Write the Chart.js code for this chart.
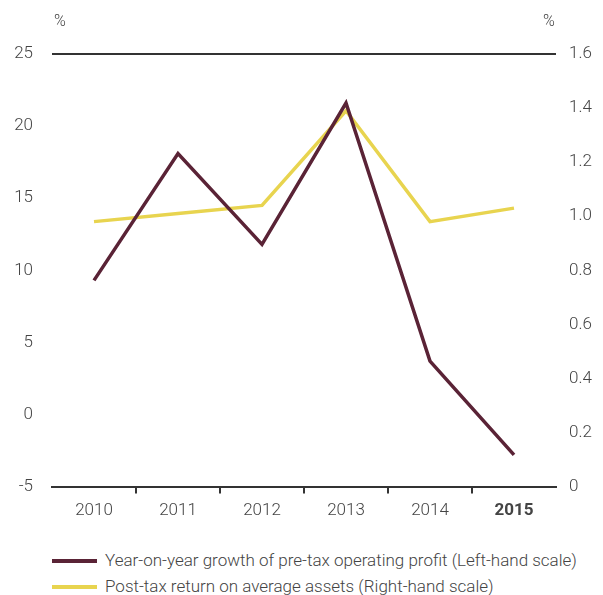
<!DOCTYPE html>
<html>
<head>
<meta charset="utf-8">
<script src="https://cdn.jsdelivr.net/npm/chart.js@4.4.0/dist/chart.umd.min.js"></script>
<style>
  body { margin: 0; background: #fff; font-family: Roboto, sans-serif; }
  #wrap { position: relative; width: 603px; height: 528px; }
  .legend { position: absolute; left: 52px; top: 547px; font-size: 17px; color: #444; font-weight: 300; }
  .legend div { height: 26px; line-height: 26px; white-space: nowrap; }
  .legend span { display: inline-block; width: 45px; height: 4px; vertical-align: middle; margin-right: 8px; margin-top: -2px; }
</style>
</head>
<body>
<div id="wrap"><canvas id="myChart"></canvas></div>
<div class="legend">
  <div><span style="background:#5a2336"></span>Year-on-year growth of pre-tax operating profit (Left-hand scale)</div>
  <div><span style="background:#e8d44f"></span>Post-tax return on average assets (Right-hand scale)</div>
</div>
<script>
// categories and values
var years = ["2010", "2011", "2012", "2013", "2014", "2015"];
var profitGrowth = [9.3, 18.1, 11.8, 21.6, 3.7, -2.8];
var returnOnAssets = [0.98, 1.01, 1.04, 1.39, 0.98, 1.03];

var darkLine = "#5a2336";
var yellowLine = "#e8d44f";
var axisColor = "#333";
var labelColor = "#444";

// draws the little % above each y axis
var percentLabels = {
  id: "percentLabels",
  afterDraw: function(chart) {
    var ctx = chart.ctx;
    ctx.save();
    ctx.font = "300 16px Roboto";
    ctx.fillStyle = labelColor;
    ctx.textBaseline = "middle";
    ctx.textAlign = "center";
    ctx.fillText("%", 60, 22);
    ctx.fillText("%", 549, 22);
    ctx.restore();
  }
};

new Chart("myChart", {
  type: "line",
  data: {
    labels: years,
    datasets: [
      {
        data: profitGrowth,
        borderColor: darkLine,
        borderWidth: 3.5,
        pointRadius: 0,
        yAxisID: "y",
        fill: false,
        tension: 0
      },
      {
        data: returnOnAssets,
        borderColor: yellowLine,
        borderWidth: 3.5,
        pointRadius: 0,
        yAxisID: "y1",
        fill: false,
        tension: 0
      }
    ]
  },
  options: {
    responsive: true,
    maintainAspectRatio: false,
    animation: false,
    layout: {padding: {top: 54, left: 0, right: 0, bottom: 0}},
    plugins: {
      legend: {display: false},
      tooltip: {enabled: false}
    },
    scales: {
      x: {
        offset: true,
        grid: {
          offset: true,
          drawOnChartArea: false,
          tickLength: 7,
          lineWidth: 2,
          color: function(c) { return (c.index > 0 && c.index < years.length) ? axisColor : "rgba(0,0,0,0)"; }
        },
        border: {display: true, color: axisColor, width: 2},
        ticks: {
          color: labelColor,
          padding: 7,
          font: function(c) {
            return c.index === years.length - 1
              ? {family: "Roboto", size: 17, weight: "bold"}
              : {family: "Roboto", size: 17, weight: "300"};
          }
        }
      },
      y: {
        position: "left",
        min: -5,
        max: 25,
        afterFit: function(scale) { scale.width = 52; },
        grid: {
          drawTicks: false,
          lineWidth: 2,
          color: function(c) { return c.tick && c.tick.value === 25 ? axisColor : "rgba(0,0,0,0)"; }
        },
        border: {display: false},
        ticks: {stepSize: 5, padding: 19, color: labelColor, font: {family: "Roboto", size: 17, weight: "300"}}
      },
      y1: {
        position: "right",
        min: 0,
        max: 1.6,
        afterFit: function(scale) { scale.width = 47; },
        grid: {display: false, drawTicks: false},
        border: {display: false},
        ticks: {
          stepSize: 0.2,
          padding: 13,
          color: labelColor,
          font: {family: "Roboto", size: 17, weight: "300"},
          callback: function(v) { return v === 0 ? "0" : v.toFixed(1); }
        }
      }
    }
  },
  plugins: [percentLabels]
});
</script>
</body>
</html>
